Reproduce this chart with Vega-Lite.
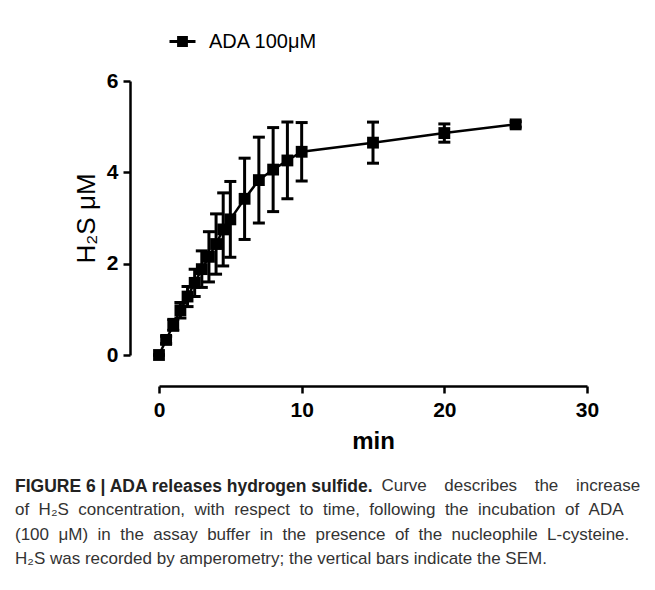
{
  "$schema": "https://vega.github.io/schema/vega-lite/v6.json",
  "autosize": {"type": "none"},
  "width": 428,
  "height": 274,
  "padding": {"left": 159, "top": 81, "right": 68, "bottom": 235},
  "background": "white",
  "config": {"view": {"stroke": null}, "font": "Liberation Sans"},
  "data": {
    "values": [
      {"t": 0, "v": 0, "sem": 0, "series": "ADA 100μM"},
      {"t": 0.5, "v": 0.33, "sem": 0.08, "series": "ADA 100μM"},
      {"t": 1, "v": 0.66, "sem": 0.12, "series": "ADA 100μM"},
      {"t": 1.5, "v": 0.98, "sem": 0.17, "series": "ADA 100μM"},
      {"t": 2, "v": 1.28, "sem": 0.22, "series": "ADA 100μM"},
      {"t": 2.5, "v": 1.58, "sem": 0.3, "series": "ADA 100μM"},
      {"t": 3, "v": 1.88, "sem": 0.4, "series": "ADA 100μM"},
      {"t": 3.5, "v": 2.15, "sem": 0.55, "series": "ADA 100μM"},
      {"t": 4, "v": 2.43, "sem": 0.66, "series": "ADA 100μM"},
      {"t": 4.5, "v": 2.75, "sem": 0.8, "series": "ADA 100μM"},
      {"t": 5, "v": 2.97, "sem": 0.83, "series": "ADA 100μM"},
      {"t": 6, "v": 3.42, "sem": 0.89, "series": "ADA 100μM"},
      {"t": 7, "v": 3.83, "sem": 0.94, "series": "ADA 100μM"},
      {"t": 8, "v": 4.06, "sem": 0.92, "series": "ADA 100μM"},
      {"t": 9, "v": 4.26, "sem": 0.84, "series": "ADA 100μM"},
      {"t": 10, "v": 4.45, "sem": 0.64, "series": "ADA 100μM"},
      {"t": 15, "v": 4.65, "sem": 0.45, "series": "ADA 100μM"},
      {"t": 20, "v": 4.86, "sem": 0.2, "series": "ADA 100μM"},
      {"t": 25, "v": 5.05, "sem": 0.06, "series": "ADA 100μM"}
    ]
  },
  "title": {
    "text": "FIGURE 6 | ADA releases hydrogen sulfide.",
    "subtitle": [
      "\u200b\u2003\u2003\u2003\u2003\u2003\u2003\u2003\u2003\u2003\u2003\u2003\u2003\u2003\u2003\u2003\u2003\u2003\u2003\u2003\u2003\u2003\u00a0\u00a0Curve \u00a0\u00a0\u2009describes \u00a0\u00a0\u2009the \u00a0\u00a0\u2009increase",
      "of \u00a0H₂S \u00a0concentration, \u00a0with \u00a0respect \u00a0to \u00a0time, \u00a0following \u00a0the \u00a0incubation \u00a0of \u00a0ADA",
      "(100 \u00a0μM) \u00a0in \u00a0the \u00a0assay \u00a0buffer \u00a0in \u00a0the \u00a0presence \u00a0of \u00a0the \u00a0nucleophile \u00a0L-cysteine.",
      "H₂S was recorded by amperometry; the vertical bars indicate the SEM."
    ],
    "orient": "bottom",
    "anchor": "start",
    "frame": "group",
    "dx": -144,
    "offset": 25,
    "font": "Liberation Sans",
    "fontSize": 17.5,
    "fontWeight": "bold",
    "color": "#222",
    "subtitleFont": "Liberation Sans",
    "subtitleFontSize": 17,
    "subtitleFontWeight": "normal",
    "subtitleColor": "#333",
    "subtitleLineHeight": 24.3,
    "subtitlePadding": -17.5
  },
  "encoding": {
    "x": {
      "field": "t",
      "type": "quantitative",
      "scale": {"domain": [0, 30], "nice": false, "zero": false},
      "axis": {
        "values": [0, 10, 20, 30],
        "offset": 31,
        "title": "min",
        "titleFont": "Liberation Sans",
        "titleFontSize": 24,
        "titleFontWeight": "bold",
        "titleColor": "black",
        "titlePadding": 9,
        "labelFont": "Liberation Sans",
        "labelFontSize": 21,
        "labelFontWeight": "bold",
        "labelColor": "black",
        "labelPadding": 6,
        "labelFlush": false,
        "tickSize": 7,
        "tickWidth": 2.5,
        "tickColor": "black",
        "domainWidth": 2.5,
        "domainColor": "black",
        "grid": false
      }
    },
    "y": {
      "field": "v",
      "type": "quantitative",
      "scale": {"domain": [0, 6], "nice": false},
      "axis": {
        "values": [0, 2, 4, 6],
        "offset": 29,
        "title": "H₂S μM",
        "titleFont": "Liberation Sans",
        "titleFontSize": 26,
        "titleFontWeight": "normal",
        "titleColor": "black",
        "titlePadding": 7,
        "labelFont": "Liberation Sans",
        "labelFontSize": 21,
        "labelFontWeight": "bold",
        "labelColor": "black",
        "labelPadding": 5,
        "labelFlush": false,
        "tickSize": 7,
        "tickWidth": 2.5,
        "tickColor": "black",
        "domainWidth": 2.5,
        "domainColor": "black",
        "grid": false
      }
    }
  },
  "layer": [
    {"mark": {"type": "line", "color": "black", "strokeWidth": 2.5}},
    {
      "mark": {
        "type": "errorbar",
        "ticks": {"opacity": 1, "color": "black"},
        "rule": {"opacity": 1, "color": "black"},
        "size": 12,
        "thickness": 3,
        "color": "black"
      },
      "encoding": {"yError": {"field": "sem"}}
    },
    {
      "mark": {"type": "point", "shape": "square", "filled": true, "size": 140, "opacity": 1},
      "encoding": {
        "color": {
          "field": "series",
          "type": "nominal",
          "scale": {"range": ["black"]},
          "legend": {
            "title": null,
            "orient": "none",
            "legendX": 9,
            "legendY": -54,
            "padding": 0,
            "symbolType": "M-1,0H1M-0.3,-0.3H0.3V0.3H-0.3Z",
            "symbolSize": 676,
            "symbolStrokeWidth": 3,
            "symbolStrokeColor": "black",
            "symbolFillColor": "black",
            "symbolOpacity": 1,
            "labelFont": "Liberation Sans",
            "labelFontSize": 20,
            "labelColor": "black",
            "labelOffset": 12,
            "labelLimit": 300,
            "encode": {
              "symbols": {"update": {"stroke": {"value": "black"}, "strokeWidth": {"value": 3}, "fill": {"value": "black"}, "opacity": {"value": 1}}}
            }
          }
        }
      }
    }
  ]
}
